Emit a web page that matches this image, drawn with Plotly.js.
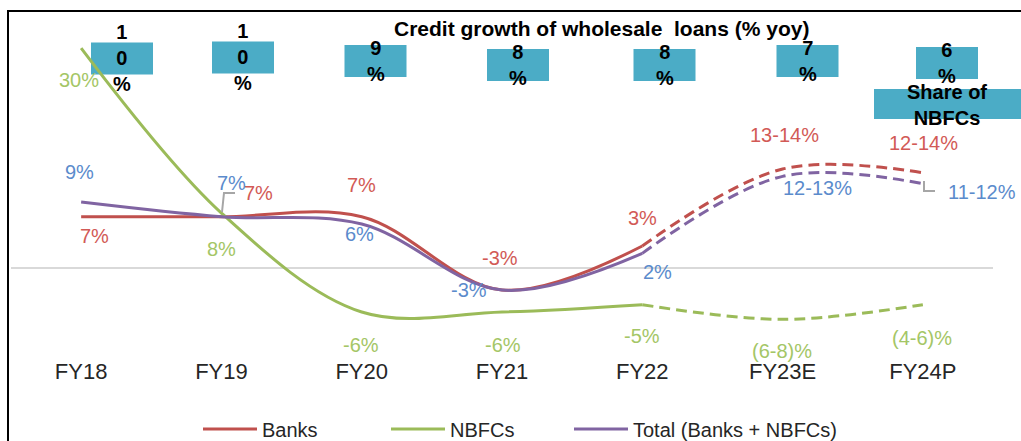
<!DOCTYPE html>
<html><head><meta charset="utf-8">
<script src="https://cdn.plot.ly/plotly-3.0.1.min.js"></script>
<style>html,body{margin:0;padding:0;background:#fff}#chart{width:1021px;height:441px}</style>
</head><body><div id="chart"></div>
<script>
const categories = ['FY18','FY19','FY20','FY21','FY22','FY23E','FY24P'];
const banks = [7, 7, 7, -3, 3, 13.5, 13];
const nbfcs = [30, 7.5, -6, -6, -5, -7, -5];
const total = [9, 7, 6, -3, 2, 12.5, 11.5];
const actualCount = 5; // FY18..FY22 actual, rest projected
const bankLabels = ['7%','7%','7%','-3%','3%','13-14%','12-14%'];
const nbfcLabels = ['30%','8%','-6%','-6%','-5%','(6-8)%','(4-6)%'];
const totalLabels = ['9%','7%','6%','-3%','2%','12-13%','11-12%'];
const shareNBFC = ['10%','10%','9%','8%','8%','7%','6%'];

const W = 1021, H = 441, L = 11, R = 993, T = 40, B = 356;
const px = p => (p - L) / (R - L);
const py = p => (B - p) / (B - T);
const FONT = 'Arial, "Liberation Sans", sans-serif';

const cRed = '#C0504D', cGreen = '#9BBB59', cPurple = '#8064A2';
const lRed = '#D25A56', lGreen = '#A4C666', lBlue = '#5B8BCC';

function seg(vals, name, color, dashed, legend) {
  const a = dashed ? actualCount - 1 : 0;
  const b = dashed ? categories.length : actualCount;
  return {
    x: categories.slice(a, b), y: vals.slice(a, b), name: name, type: 'scatter', mode: 'lines',
    line: {color: color, width: 3, shape: 'spline', smoothing: 1, dash: dashed ? '11px,6px' : 'solid'},
    showlegend: !!legend, legend: legend || 'legend', hoverinfo: 'skip'
  };
}
const data = [
  seg(banks, 'Banks', cRed, false, 'legend'),
  seg(nbfcs, 'NBFCs', cGreen, false, 'legend'),
  seg(total, 'Total (Banks + NBFCs)', cPurple, false, 'legend2'),
  seg(banks, 'Banks', cRed, true, null),
  seg(nbfcs, 'NBFCs', cGreen, true, null),
  seg(total, 'Total (Banks + NBFCs)', cPurple, true, null)
];

// label offsets (px) relative to the data point
const bankOff = [[13,-19],[37,24],[0,32],[-2,32],[0,28],[2,34],[1,30]];
const totalOff = [[-2,30],[10,34],[-2,-10],[-33,0],[15,-19],[35,-12],[59,-8]];
const nbfcOff = [[-2,-32],[0,-36],[-1,-33],[1,-33],[0,-31],[-1,-32],[-1,-33]];

const annotations = [];
function addLabels(vals, labels, offs, color) {
  categories.forEach((c, i) => {
    annotations.push({x: c, y: vals[i], xref: 'x', yref: 'y', text: labels[i], showarrow: false,
      xanchor: 'center', yanchor: 'middle',
      xshift: offs[i][0], yshift: offs[i][1], font: {family: FONT, size: 20, color: color}});
  });
}
addLabels(banks, bankLabels, bankOff, lRed);
addLabels(total, totalLabels, totalOff, lBlue);
addLabels(nbfcs, nbfcLabels, nbfcOff, lGreen);

function note(cx, cy, text, size) {
  annotations.push({x: px(cx), y: py(cy), xref: 'paper', yref: 'paper', showarrow: false,
    xanchor: 'center', yanchor: 'middle', text: text, font: {family: FONT, size: size, color: '#000'}});
}
// title
note(601, 28, '<b>Credit growth of wholesale  loans (% yoy)</b>', 21);

// share-of-NBFC boxes
const boxCenters = [[122,58.5],[243,57.5],[375.5,61],[518,65],[664.5,65],[807.5,61],[947,63]];
const shapes = [];
shareNBFC.forEach((s, i) => {
  const [cx, cy] = boxCenters[i];
  shapes.push({type: 'rect', xref: 'paper', yref: 'paper', x0: px(cx - 31), x1: px(cx + 31), y0: py(cy + 16), y1: py(cy - 16),
    fillcolor: '#4BACC6', line: {width: 0}, layer: 'below'});
  note(cx, cy, '<b>' + s.split('').join('<br>') + '</b>', 20);
});
shapes.push({type: 'rect', xref: 'paper', yref: 'paper', x0: px(874), x1: px(1030), y0: py(119), y1: py(89),
  fillcolor: '#4BACC6', line: {width: 0}, layer: 'below'});
note(947, 105, '<b>Share of<br>NBFCs</b>', 20);

// leader lines
shapes.push({type: 'path', xref: 'paper', yref: 'paper',
  path: `M${px(235)},${py(193)} L${px(224)},${py(193)} L${px(222)},${py(212)}`, line: {color: '#A6A6A6', width: 2}});
shapes.push({type: 'path', xref: 'paper', yref: 'paper',
  path: `M${px(924)},${py(181)} L${px(924)},${py(191)} L${px(935)},${py(191)}`, line: {color: '#A6A6A6', width: 2}});

// outer border
shapes.push({type: 'rect', xref: 'paper', yref: 'paper', x0: px(8), x1: px(1040), y0: py(470), y1: py(11),
  line: {color: '#000', width: 2}, fillcolor: 'rgba(0,0,0,0)'});

const legendFont = {family: FONT, size: 20, color: '#262626'};
const layout = {
  width: W, height: H,
  margin: {l: L, r: W - R, t: T, b: H - B, pad: 0, autoexpand: false},
  paper_bgcolor: '#fff', plot_bgcolor: '#fff',
  font: {family: FONT, color: '#262626'},
  xaxis: {type: 'category', range: [-0.5, 6.5], showgrid: false, zeroline: false, showline: false, ticks: '',
    tickfont: {family: FONT, size: 22, color: '#262626'}, fixedrange: true, automargin: false},
  yaxis: {range: [-12.0, 31.1], showgrid: false, showticklabels: false, ticks: '', showline: false,
    zeroline: true, zerolinecolor: '#D9D9D9', zerolinewidth: 2, fixedrange: true, automargin: false},
  showlegend: true,
  legend: {orientation: 'h', x: px(198), xanchor: 'left', y: py(429), yanchor: 'middle',
    font: legendFont, entrywidth: 119, itemwidth: 54, bgcolor: 'rgba(0,0,0,0)'},
  legend2: {orientation: 'h', x: px(569), xanchor: 'left', y: py(429), yanchor: 'middle',
    font: legendFont, itemwidth: 54, bgcolor: 'rgba(0,0,0,0)'},
  annotations: annotations,
  shapes: shapes
};
Plotly.newPlot('chart', data, layout, {staticPlot: true, displayModeBar: false});
</script>
</body></html>
